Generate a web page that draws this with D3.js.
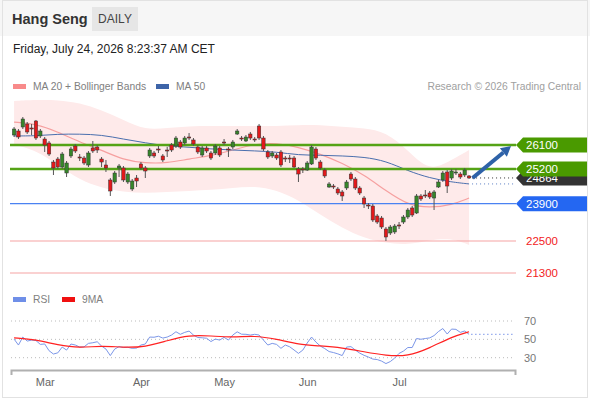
<!DOCTYPE html>
<html lang="en">
<head>
<meta charset="UTF-8">
<title>Hang Seng Daily</title>
<script src="https://cdn.jsdelivr.net/npm/d3@7/dist/d3.min.js"></script>
<style>
  body { margin: 0; background: #fff; }
  svg { display: block; font-family: "Liberation Sans", Arial, sans-serif; }
</style>
</head>
<body>
<div id="chart"></div>
<script>
// trading days Feb 16 .. Jul 24 2026, weekends and HK holidays skipped
const holidays = ["2026-02-17", "2026-02-18", "2026-02-19", "2026-04-03", "2026-04-06",
  "2026-04-07", "2026-05-01", "2026-05-25", "2026-06-19", "2026-07-01"];
const dates = [];
for (let d = new Date(Date.UTC(2026, 1, 16)); d <= new Date(Date.UTC(2026, 6, 24)); d.setUTCDate(d.getUTCDate() + 1)) {
  const iso = d.toISOString().slice(0, 10);
  if (d.getUTCDay() === 0 || d.getUTCDay() === 6 || holidays.includes(iso)) continue;
  dates.push(iso);
}
const monthNames = ["Mar", "Apr", "May", "Jun", "Jul"];

// daily candles
const opens = [26475,26625,26775,26888,26738,27000,26438,26325,26175,25462,
  25575,25275,25050,25688,26062,25650,25612,25350,25988,26025,
  25575,25350,24788,24712,25238,25238,24712,24450,24862,25388,
  25238,25688,25800,25950,25688,25912,26100,26062,26212,26175,
  26400,26288,26025,25725,25988,25800,25800,25988,26212,25950,
  26025,26512,26362,26250,26512,26325,26812,26362,25838,25688,
  25725,25838,25612,25612,25612,25200,25200,25162,25388,25950,
  25462,25162,24525,24562,24450,24338,24488,25012,24825,24488,
  24112,23850,23812,23438,23362,22950,22800,22838,23100,23212,
  23400,23738,23550,24188,24225,24300,24112,24525,24788,25088,
  24862,25050,25012,24975,24938];
const highs = [26775,26700,27150,26962,26888,27038,26700,26400,26250,25538,
  25650,25838,25500,26025,26138,25762,25688,25875,26250,26100,
  25650,25538,24862,25125,25388,25312,25088,24825,24975,25462,
  25312,25988,25875,26062,25762,26025,26175,26438,26288,26438,
  26550,26362,26100,26062,26062,25875,26138,26062,26325,26025,
  26288,26700,26438,26475,26588,26400,26888,26438,25912,25875,
  25800,25912,25688,25725,25688,25275,25275,25500,26100,26025,
  25538,25238,24712,24638,24525,24412,24788,25088,24900,24562,
  24188,23925,23888,23512,23438,23025,23100,23138,23212,23475,
  23738,23812,24262,24262,24412,24375,24412,24788,25125,25162,
  25200,25200,25088,25238,24975];
const lows = [26400,26325,26700,26512,26475,26288,26362,25838,25688,24975,
  25200,25200,24900,25612,25800,25500,25350,25275,25800,25800,
  25275,25088,24188,24638,24900,24712,24638,24375,24525,25162,
  24862,25612,25612,25800,25462,25650,25838,25988,25950,26100,
  26288,26062,25762,25650,25800,25538,25725,25650,26100,25650,
  25950,26475,26250,26212,26288,26212,26288,25875,25575,25612,
  25538,25275,25462,25425,25238,24712,25050,25125,25350,25538,
  25162,24862,24488,24450,24225,24000,24412,24750,24412,24225,
  23738,23700,23212,23138,22950,22500,22725,22762,22950,23138,
  23325,23400,23512,24000,24112,24075,23662,24488,24712,24300,
  24788,24975,24825,24900,24825];
const closes = [26700,26400,27075,26588,26700,26362,26625,26100,25762,25238,
  25275,25762,25425,25950,25875,25612,25425,25800,25875,25912,
  25462,25238,24375,25050,25312,24788,25012,24750,24750,25238,
  25125,25912,25688,25912,25538,25875,25912,26362,26025,26362,
  26362,26138,25838,25988,25875,25612,26062,25725,26175,25912,
  26212,26625,26325,26400,26362,26288,26362,25950,25650,25800,
  25612,25350,25575,25575,25275,25012,25162,25425,26025,25612,
  25238,24938,24638,24525,24300,24188,24712,24825,24488,24300,
  23888,23812,23288,23212,23025,22650,23025,23062,23062,23400,
  23662,23475,24188,24075,24188,24150,24338,24712,25050,24562,
  25125,25088,24900,25162,24864];

// indicator lines, read at every 5th session
const sampleIdx = [0,5,10,15,20,25,30,35,40,45,50,55,60,65,70,75,80,85,90,95,100,104];
const bollUpper = [27750,27790,27790,27680,27410,27040,26660,26740,26810,26810,26810,
  26810,26810,26850,26850,26780,26740,26590,25910,25090,25540,25910];
const ma20 = [26960,26890,26590,26210,25910,25540,25420,25420,25580,25690,25910,
  26140,26180,26020,25760,25420,24980,24380,23850,23740,23850,24110];
const bollLower = [26100,25910,25350,24790,24490,24340,24300,24340,24380,24410,24490,
  24560,24410,24040,23480,22990,22610,22420,22350,22540,22610,22350];
const ma50 = [26440,26440,26510,26510,26480,26320,26180,26060,26020,25950,25910,
  25880,25840,25720,25720,25690,25650,25500,25130,24860,24710,24640];

// RSI per session and its 9MA (sampled)
const rsi = [50.3,43.8,52.5,48.1,49.2,48.7,44.5,45,37.6,34,
  35.3,41.6,38.3,44.9,43.8,41.6,41.8,45.6,46.3,47.4,
  42.7,39.4,32.3,39.4,42.1,41.1,41.3,40.2,40.5,43.8,
  44.9,52.5,52.3,53.4,51.4,52.5,54.7,58.3,55.5,57.6,
  59,54.7,52,51.7,51.2,47.6,50.3,49.2,52.2,49.2,
  54.7,58.2,55.6,55.5,54.7,55.5,54.7,49.2,43.8,45.6,
  44.5,40.2,43.8,41.9,38.4,34.7,38.3,46,52.5,47,
  42.7,40,36.7,35.6,34.2,32.3,41.6,42.1,38.3,35,
  32.6,30.7,28.5,28,26.3,23.6,25.8,29.6,34.7,37.2,
  41.1,41.1,50.9,50.1,50.9,51.6,54.1,58.5,61.8,55.8,
  61.2,60.9,57.6,59.1,55.5];
const rsiMa9 = [51.7,49.8,43.8,40.5,43.2,41.1,41.6,48.7,54.7,53.8,52,
  54.1,50.3,44.3,42.9,40.9,36.4,32.3,31.5,40.5,52.7,58.3];
const rsiTicks = [70, 50, 30];

// key levels
const levelValues = [26100, 25200, 23900, 22500, 21300];
const levelKinds = ["resistance", "resistance", "pivot", "support", "support"];
const lastPrice = 24864;
const targetPrice = 26060;

const kindStyle = {
  resistance: { line: "#55a316", width: 2.4, box: "#4a9a00" },
  pivot: { line: "#4a82f2", width: 1.4, box: "#2467f2" },
  support: { line: "#f5a3a3", width: 1, text: "#f21c1c" }
};

const W = 590, H = 400;
const svg = d3.select("#chart").append("svg").attr("width", W).attr("height", H);

// header
svg.append("rect").attr("x", 0).attr("y", 0).attr("width", W).attr("height", 36).attr("fill", "#f6f6f6");
svg.append("rect").attr("x", 2.5).attr("y", 0.5).attr("width", 585).attr("height", 397)
  .attr("fill", "none").attr("stroke", "#e2e2e2");
svg.append("text").attr("x", 12).attr("y", 24).attr("font-size", "14.5px").attr("font-weight", "bold")
  .attr("fill", "#333").text("Hang Seng");
svg.append("rect").attr("x", 92).attr("y", 7).attr("width", 46).attr("height", 24).attr("fill", "#e6e6e6");
svg.append("text").attr("x", 115).attr("y", 23).attr("text-anchor", "middle").attr("font-size", "12px")
  .attr("fill", "#444").text("DAILY");
svg.append("text").attr("x", 13).attr("y", 53).attr("font-size", "12px").attr("fill", "#222")
  .text("Friday, July 24, 2026 8:23:37 AM CET");

// legends
function legend(x, y, color, label) {
  svg.append("rect").attr("x", x).attr("y", y - 6).attr("width", 13).attr("height", 5).attr("fill", color);
  svg.append("text").attr("x", x + 20).attr("y", y).attr("font-size", "10.3px").attr("fill", "#808080").text(label);
}
legend(13, 90, "#f88a8a", "MA 20 + Bollinger Bands");
legend(156, 90, "#3d64a8", "MA 50");
svg.append("text").attr("x", 581).attr("y", 90).attr("text-anchor", "end").attr("font-size", "10.3px")
  .attr("fill", "#a0a0a0").text("Research \u00a9 2026 Trading Central");
legend(13, 303, "#6f8fe8", "RSI");
legend(62, 303, "#f01010", "9MA");

// scales
const x = d3.scaleLinear().domain([-0.7, 114.5]).range([11, 515]);
const y = d3.scaleLinear().domain([21300, 26100]).range([273, 145]);
const yR = d3.scaleLinear().domain([30, 70]).range([357.7, 321]);

// bollinger band
const band = sampleIdx.map((d, i) => ({ i: d, u: bollUpper[i], m: ma20[i], l: bollLower[i], m50: ma50[i] }));
svg.append("path").datum(band)
  .attr("d", d3.area().curve(d3.curveBasis).x(d => x(d.i)).y0(d => y(d.l)).y1(d => y(d.u)))
  .attr("fill", "#feeaea");
svg.append("path").datum(band)
  .attr("d", d3.line().curve(d3.curveBasis).x(d => x(d.i)).y(d => y(d.m)))
  .attr("fill", "none").attr("stroke", "#f6a0a0").attr("stroke-width", 1.2);
svg.append("path").datum(band)
  .attr("d", d3.line().curve(d3.curveBasis).x(d => x(d.i)).y(d => y(d.m50)))
  .attr("fill", "none").attr("stroke", "#4a6fae").attr("stroke-width", 1);

// level lines
levelValues.forEach((v, i) => {
  const s = kindStyle[levelKinds[i]];
  svg.append("line").attr("x1", 10).attr("x2", 516).attr("y1", y(v)).attr("y2", y(v))
    .attr("stroke", s.line).attr("stroke-width", s.width);
});

// candles
const candles = dates.map((d, i) => ({ i, o: opens[i], h: highs[i], l: lows[i], c: closes[i] }));
const cg = svg.append("g");
cg.selectAll("line").data(candles).enter().append("line")
  .attr("x1", d => x(d.i)).attr("x2", d => x(d.i))
  .attr("y1", d => y(d.h)).attr("y2", d => y(d.l))
  .attr("stroke", "#555").attr("stroke-width", 1);
cg.selectAll("rect").data(candles).enter().append("rect")
  .attr("x", d => x(d.i) - 1.7).attr("width", 3.4)
  .attr("y", d => y(Math.max(d.o, d.c)))
  .attr("height", d => Math.max(1, Math.abs(y(d.o) - y(d.c))))
  .attr("fill", d => d.c >= d.o ? "#36862a" : "#e3191b")
  .attr("stroke", "#333").attr("stroke-width", 0.5);

// projections after the last session
const lastI = candles.length - 1;
svg.append("line").attr("x1", x(lastI) + 3).attr("x2", 515).attr("y1", y(lastPrice)).attr("y2", y(lastPrice))
  .attr("stroke", "#333").attr("stroke-width", 1).attr("stroke-dasharray", "1,3");
svg.append("line").attr("x1", x(lastI) + 3).attr("x2", 515)
  .attr("y1", y(ma50[ma50.length - 1])).attr("y2", y(ma50[ma50.length - 1]))
  .attr("stroke", "#5b7fc4").attr("stroke-width", 1).attr("stroke-dasharray", "1,3");

// price tags (the last-price tag sits under the 25200 tag, as in the source)
function tag(v, fill, label, dy) {
  const cy = y(v);
  svg.append("path")
    .attr("d", `M516,${cy} L523,${cy - 7.5} L587,${cy - 7.5} L587,${cy + 7.5} L523,${cy + 7.5} Z`)
    .attr("fill", fill);
  svg.append("text").attr("x", 526).attr("y", cy + (dy || 4)).attr("font-size", "11.5px").attr("fill", "#fff").text(label);
}
tag(lastPrice, "#333", lastPrice, 4.5);
levelValues.forEach((v, i) => {
  const s = kindStyle[levelKinds[i]];
  if (s.box) tag(v, s.box, v);
  else svg.append("text").attr("x", 526).attr("y", y(v) + 4).attr("font-size", "11.5px")
    .attr("fill", s.text).text(v);
});

// trend arrow
const ax0 = x(lastI) + 3.5, ay0 = y(lastPrice), ax1 = x(113.6), ay1 = y(targetPrice);
const ang = Math.atan2(ay1 - ay0, ax1 - ax0);
const hb = 10, hw = 5.5;
const bx = ax1 - hb * Math.cos(ang), by = ay1 - hb * Math.sin(ang);
svg.append("line").attr("x1", ax0).attr("y1", ay0).attr("x2", bx).attr("y2", by)
  .attr("stroke", "#2e62a8").attr("stroke-width", 4);
svg.append("path")
  .attr("d", `M${ax1},${ay1} L${bx + hw * Math.sin(ang)},${by - hw * Math.cos(ang)} L${bx - hw * Math.sin(ang)},${by + hw * Math.cos(ang)} Z`)
  .attr("fill", "#2e62a8");

// RSI panel
rsiTicks.forEach(t => {
  svg.append("line").attr("x1", 11).attr("x2", 515).attr("y1", yR(t)).attr("y2", yR(t))
    .attr("stroke", "#bbb").attr("stroke-dasharray", "1,3");
  svg.append("text").attr("x", 524).attr("y", yR(t) + 4).attr("font-size", "11px").attr("fill", "#777").text(t);
});
svg.append("path").datum(rsi)
  .attr("d", d3.line().x((d, i) => x(i)).y(d => yR(d)))
  .attr("fill", "none").attr("stroke", "#7b96e8").attr("stroke-width", 1);
svg.append("line").attr("x1", x(lastI) + 2).attr("x2", 515)
  .attr("y1", yR(rsi[lastI])).attr("y2", yR(rsi[lastI]))
  .attr("stroke", "#7b96e8").attr("stroke-dasharray", "1.5,2.5");
svg.append("path").datum(sampleIdx.map((d, i) => [d, rsiMa9[i]]))
  .attr("d", d3.line().curve(d3.curveBasis).x(d => x(d[0])).y(d => yR(d[1])))
  .attr("fill", "none").attr("stroke", "#f22").attr("stroke-width", 1.2);

// month axis
const monthIdx = monthNames.map((m, k) => dates.findIndex(d => +d.slice(5, 7) === k + 3));
const axis = svg.append("g").attr("transform", "translate(0,370)")
  .call(d3.axisBottom(x).tickValues(monthIdx).tickFormat((d, k) => monthNames[k])
    .tickSizeInner(0).tickSizeOuter(5).tickPadding(8));
axis.select(".domain").attr("stroke", "#b0b0b0").attr("stroke-width", 2);
axis.selectAll("text").attr("font-size", "11px").attr("fill", "#666")
  .attr("font-family", "'Liberation Sans', Arial, sans-serif");
</script>
</body>
</html>
